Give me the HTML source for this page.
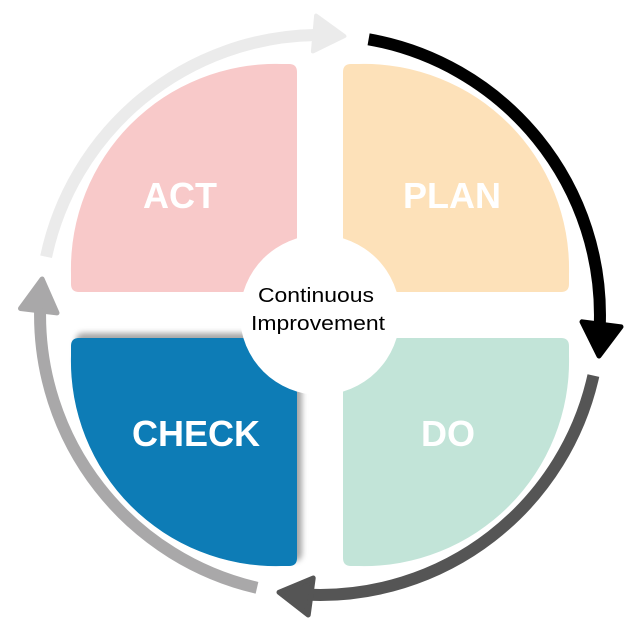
<!DOCTYPE html>
<html><head><meta charset="utf-8"><style>
html,body{margin:0;padding:0;background:#fff;}
svg{display:block;}
text{font-family:"Liberation Sans",sans-serif;}
</style></head><body>
<svg width="632" height="623" viewBox="0 0 632 623" xmlns="http://www.w3.org/2000/svg">
<defs>
<filter id="sh" x="-20%" y="-20%" width="140%" height="140%">
<feDropShadow dx="5" dy="-5" stdDeviation="3" flood-color="#000" flood-opacity="0.35"/>
</filter>
</defs>
<!-- quadrants: 226x228 squares with large outer corner -->
<path d="M71,274 A205,205 0 0 1 281,64 L289,64 Q297,64 297,72 L297,284 Q297,292 289,292 L79,292 Q71,292 71,284 Z" fill="#f8c9c9"/>
<path d="M569,274 A205,205 0 0 0 359,64 L351,64 Q343,64 343,72 L343,284 Q343,292 351,292 L561,292 Q569,292 569,284 Z" fill="#fde1b9"/>
<path d="M569,356 A205,205 0 0 1 359,566 L351,566 Q343,566 343,558 L343,346 Q343,338 351,338 L561,338 Q569,338 569,346 Z" fill="#c2e4d8"/>
<g filter="url(#sh)">
<path d="M71,356 A205,205 0 0 0 281,566 L289,566 Q297,566 297,558 L297,346 Q297,338 289,338 L79,338 Q71,338 71,346 Z" fill="#077bb6"/>
</g>
<circle cx="320" cy="315" r="80" fill="#fff"/>
<!-- arrows -->
<path d="M46.1,256.8 A280,280 0 0 1 315.1,35" fill="none" stroke="#ebebeb" stroke-width="12"/>
<polygon points="344.4,36.1 316.1,15.6 312.9,51.4" fill="#ebebeb" stroke="#ebebeb" stroke-width="4" stroke-linejoin="round"/>
<path d="M368.6,39.3 A280,280 0 0 1 599.8,324.8" fill="none" stroke="#000" stroke-width="12"/>
<polygon points="599,356 621,326.8 582,321.8" fill="#000" stroke="#000" stroke-width="5" stroke-linejoin="round"/>
<path d="M593.4,375.6 A280,280 0 0 1 310.2,594.8" fill="none" stroke="#555" stroke-width="12"/>
<polygon points="279,592.3 308.2,615 313.2,578" fill="#555" stroke="#555" stroke-width="5" stroke-linejoin="round"/>
<path d="M257,587.8 A280,280 0 0 1 40.1,310.1" fill="none" stroke="#a9a8a9" stroke-width="12"/>
<polygon points="42.1,279 20.5,308.5 57,312.9" fill="#a9a8a9" stroke="#a9a8a9" stroke-width="5" stroke-linejoin="round"/>
<!-- labels -->
<g fill="#fff" font-weight="bold" font-size="36" text-anchor="middle">
<text x="180" y="208">ACT</text>
<text x="452" y="208">PLAN</text>
<text x="196" y="446">CHECK</text>
<text x="448" y="446">DO</text>
</g>
<g fill="#000" font-size="20" text-anchor="middle">
<text x="316" y="302" textLength="116" lengthAdjust="spacingAndGlyphs">Continuous</text>
<text x="318" y="330" textLength="134" lengthAdjust="spacingAndGlyphs">Improvement</text>
</g>
</svg>
</body></html>
